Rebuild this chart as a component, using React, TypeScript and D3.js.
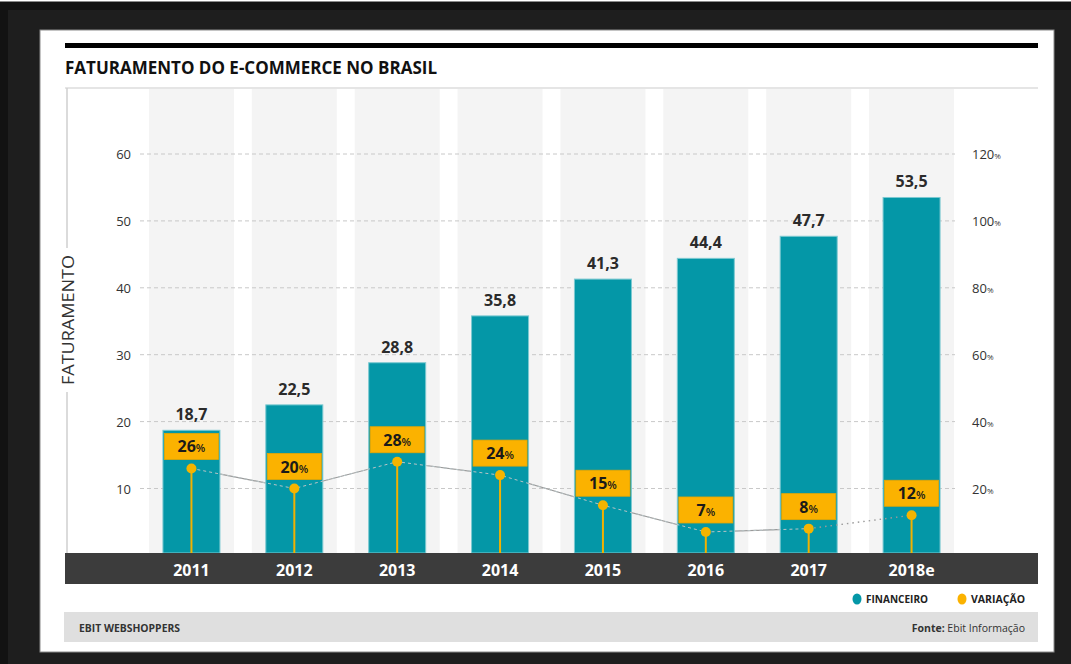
import React from "react";
import * as d3 from "d3";

// Revenue of Brazilian e-commerce (R$ billions) and yearly growth (%)
const years = ["2011", "2012", "2013", "2014", "2015", "2016", "2017", "2018e"];
const revenue = [18.7, 22.5, 28.8, 35.8, 41.3, 44.4, 47.7, 53.5];
const growth = [26, 20, 28, 24, 15, 7, 8, 12];
const leftTicks = [10, 20, 30, 40, 50, 60];
const rightTicks = [20, 40, 60, 80, 100, 120];

const TEAL = "#0497a7";
const ORANGE = "#fbb200";
const TEXT = "#2b2b2b";
const SANS = "'Open Sans', 'Noto Sans', sans-serif";

const fmt = (v: number) => v.toFixed(1).replace(".", ",");

export default function App() {
  const W = 1071;
  const H = 664;

  const x = d3.scaleBand<string>().domain(years).range([140, 963]);
  const y = d3.scaleLinear().domain([0, 60]).range([555.4, 154]);
  const yPct = d3.scaleLinear().domain([0, 120]).range([555.4, 154]);

  const cx = (yr: string) => (x(yr) as number) + x.bandwidth() / 2;
  const bandW = 85;
  const barW = 57;
  const boxW = 54;
  const boxH = 26;
  const axisTop = 553;

  const pts = years.map((yr, i) => [cx(yr), yPct(growth[i])] as [number, number]);
  const line = d3.line();
  const actual = pts.slice(0, 7);
  const estimate = pts.slice(6);

  return (
    <svg
      width={W}
      height={H}
      viewBox={`0 0 ${W} ${H}`}
      style={{ position: "absolute", left: 0, top: 0, display: "block" }}
    >
      {/* dark surround */}
      <rect x={0} y={0} width={W} height={H} fill="#121212" />
      <rect x={0} y={0} width={W} height={1.5} fill="#ffffff" />
      <rect x={8} y={10} width={W - 8} height={H - 10} fill="#1e1e1e" />
      <rect x={40} y={30} width={1014} height={622} fill="#ffffff" stroke="#8a8a8a" strokeWidth={1} />

      {/* title */}
      <rect x={65} y={43} width={973} height={5} fill="#000" />
      <text
        x={65}
        y={74}
        fontFamily={SANS}
        fontWeight={700}
        fontSize={17}
        fill="#111"
        textLength={372}
        lengthAdjust="spacingAndGlyphs"
      >
        FATURAMENTO DO E-COMMERCE NO BRASIL
      </text>

      {/* frame lines */}
      <line x1={65} x2={1038} y1={88} y2={88} stroke="#dcdcdc" strokeWidth={1.5} />
      <line x1={67} x2={67} y1={88} y2={248} stroke="#cfcfcf" strokeWidth={1.5} />
      <line x1={67} x2={67} y1={392} y2={axisTop} stroke="#cfcfcf" strokeWidth={1.5} />
      <text
        transform={`translate(74,320) rotate(-90)`}
        textAnchor="middle"
        fontFamily={SANS}
        fontSize={16}
        fill="#333"
        textLength={130}
        lengthAdjust="spacingAndGlyphs"
      >
        FATURAMENTO
      </text>

      {/* column bands */}
      {years.map((yr) => (
        <rect key={`band-${yr}`} x={cx(yr) - bandW / 2} y={89} width={bandW} height={axisTop - 89} fill="#f4f4f4" />
      ))}

      {/* grid */}
      {leftTicks.map((t) => (
        <line
          key={`g-${t}`}
          x1={140}
          x2={955}
          y1={y(t)}
          y2={y(t)}
          stroke="#c8c8c8"
          strokeWidth={1}
          strokeDasharray="4,3"
        />
      ))}

      {/* left axis labels */}
      {leftTicks.map((t) => (
        <text
          key={`l-${t}`}
          x={131}
          y={y(t) + 5}
          textAnchor="end"
          fontFamily={SANS}
          fontSize={13}
          fill="#333"
        >
          {t}
        </text>
      ))}

      {/* right axis labels */}
      {rightTicks.map((t) => (
        <text key={`r-${t}`} x={972} y={yPct(t) + 5} fontFamily={SANS} fontSize={13} fill="#333">
          {t}
          <tspan fontSize={8}>%</tspan>
        </text>
      ))}

      {/* growth line between the bars */}
      <path d={line(actual) || ""} fill="none" stroke="#9a9a9a" strokeWidth={1.2} />

      {/* revenue bars */}
      {years.map((yr, i) => (
        <rect
          key={`bar-${yr}`}
          x={cx(yr) - barW / 2}
          y={y(revenue[i])}
          width={barW}
          height={axisTop - y(revenue[i])}
          fill={TEAL}
          stroke="#7cc9d1"
          strokeWidth={1}
        />
      ))}

      {/* growth line over the bars */}
      <path d={line(actual) || ""} fill="none" stroke="#b9c4c6" strokeWidth={1} strokeDasharray="3,3" />
      <path d={line(estimate) || ""} fill="none" stroke="#9a9a9a" strokeWidth={1.4} strokeDasharray="1.5,4" />

      {/* revenue labels */}
      {years.map((yr, i) => (
        <text
          key={`v-${yr}`}
          x={cx(yr)}
          y={y(revenue[i]) - 10}
          textAnchor="middle"
          fontFamily={SANS}
          fontWeight={700}
          fontSize={16}
          fill={TEXT}
        >
          {fmt(revenue[i])}
        </text>
      ))}

      {/* growth stems, dots and boxes */}
      {years.map((yr, i) => {
        const px = cx(yr);
        const py = yPct(growth[i]);
        const by = py - 22 - boxH / 2;
        return (
          <g key={`p-${yr}`}>
            <line x1={px} x2={px} y1={py} y2={axisTop} stroke="#f2b100" strokeWidth={2} />
            <circle cx={px} cy={py} r={5} fill="#f5b400" />
            <rect
              x={px - boxW / 2}
              y={by}
              width={boxW}
              height={boxH}
              fill={ORANGE}
              stroke="#e8a600"
              strokeWidth={0.8}
            />
            <text
              x={px}
              y={by + boxH / 2 + 6}
              textAnchor="middle"
              fontFamily={SANS}
              fontWeight={700}
              fontSize={16}
              fill="#1a1a1a"
            >
              {growth[i]}
              <tspan fontSize={11} fontWeight={600}>%</tspan>
            </text>
          </g>
        );
      })}

      {/* category axis */}
      <rect x={65} y={axisTop} width={973} height={31} fill="#3c3c3c" />
      {years.map((yr) => (
        <text
          key={`x-${yr}`}
          x={cx(yr)}
          y={576}
          textAnchor="middle"
          fontFamily={SANS}
          fontWeight={700}
          fontSize={16}
          fill="#ffffff"
        >
          {yr}
        </text>
      ))}

      {/* legend */}
      <ellipse cx={857} cy={599} rx={4.5} ry={5.5} fill={TEAL} />
      <text x={866} y={603} fontFamily={SANS} fontWeight={700} fontSize={10.5} fill="#222" textLength={62} lengthAdjust="spacingAndGlyphs">
        FINANCEIRO
      </text>
      <ellipse cx={962} cy={599} rx={4.5} ry={5.5} fill={ORANGE} />
      <text x={971} y={603} fontFamily={SANS} fontWeight={700} fontSize={10.5} fill="#222" textLength={54} lengthAdjust="spacingAndGlyphs">
        VARIAÇÃO
      </text>

      {/* footer */}
      <rect x={64} y={612} width={974} height={30} fill="#dfdfdf" />
      <text x={79} y={632} fontFamily={SANS} fontWeight={700} fontSize={10.5} fill="#333" textLength={101} lengthAdjust="spacingAndGlyphs">
        EBIT WEBSHOPPERS
      </text>
      <text x={1025} y={632} textAnchor="end" fontFamily={SANS} fontSize={10.5} fill="#333">
        <tspan fontWeight={700}>Fonte:</tspan> Ebit Informação
      </text>
    </svg>
  );
}
